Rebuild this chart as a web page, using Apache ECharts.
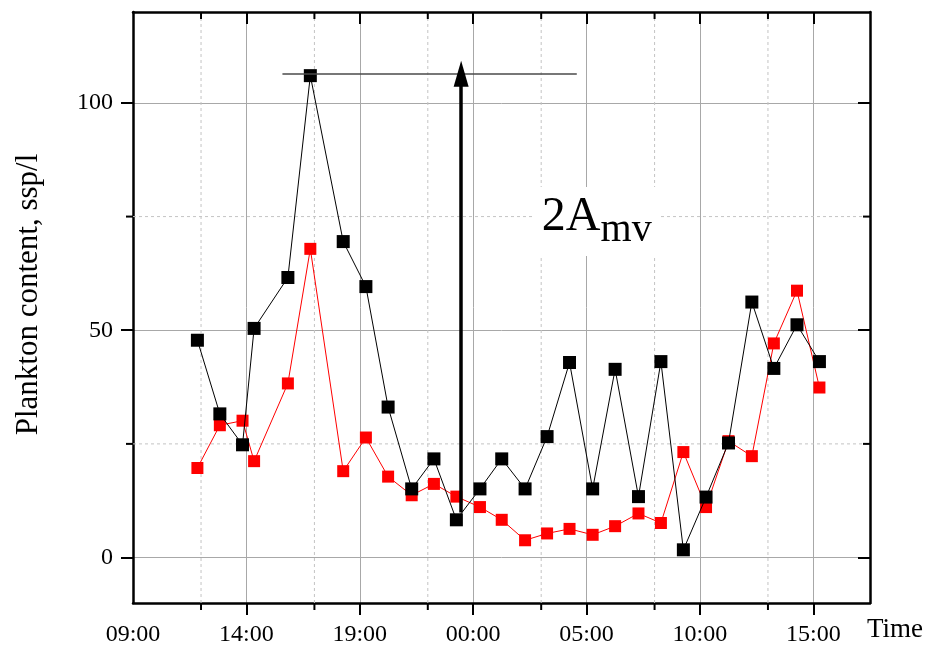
<!DOCTYPE html>
<html>
<head>
<meta charset="utf-8">
<script src="https://cdn.jsdelivr.net/npm/echarts@6/dist/echarts.min.js"></script>
<style>
html,body{margin:0;padding:0;background:#fff;}
#chart{width:932px;height:647px;}
</style>
</head>
<body>
<div id="chart"></div>
<script>
// Time in hours after 09:00 on day 1
var sampleTimes = [2.84, 3.83, 4.83, 5.34, 6.83, 7.82, 9.27, 10.27, 11.25, 12.29, 13.27, 14.26, 15.30, 16.26,
  17.29, 18.26, 19.25, 20.27, 21.26, 22.29, 23.28, 24.27, 25.27, 26.26, 27.29, 28.26, 29.28, 30.27];
var blackValues = [47.8, 31.6, 24.8, 50.4, 61.6, 106.0, 69.5, 59.6, 33.1, 15.1, 21.7, 8.3, 15.1, 21.7,
  15.1, 26.6, 42.9, 15.1, 41.4, 13.4, 43.1, 1.7, 13.3, 25.2, 56.2, 41.6, 51.2, 43.1];
var redValues = [19.7, 29.1, 30.1, 21.2, 38.3, 67.9, 19.0, 26.4, 17.8, 13.7, 16.2, 13.4, 11.1, 8.3,
  3.8, 5.3, 6.3, 5.0, 6.9, 9.7, 7.6, 23.2, 11.1, 25.6, 22.3, 47.1, 58.7, 37.4];

var xTickValues = [0, 5, 10, 15, 20, 25, 30];
var xTickLabels = ['09:00', '14:00', '19:00', '00:00', '05:00', '10:00', '15:00'];
var xMinorValues = [3, 8, 13, 18, 23, 28];
var yTickValues = [0, 50, 100];
var yTickLabels = ['0', '50', '100'];
var yMinorValues = [25, 75];

// annotation (2A_mv amplitude)
var annoLineX = [6.59, 19.57];
var annoLevel = 106.4;
var arrowX = 14.47;
var arrowBase = 9.9;
var annoTextPos = [20.45, 73.9];

var X_MIN = 0, X_MAX = 32.5, Y_MIN = -10, Y_MAX = 120;
var FONT = 'Liberation Serif';

function pairs(xs, ys) { return xs.map(function (x, i) { return [x, ys[i]]; }); }

var chart = echarts.init(document.getElementById('chart'), null, {renderer: 'canvas'});

var frameLine = {show: true, onZero: false, lineStyle: {color: '#000', width: 2.5}};
var majorGrid = {show: true, lineStyle: {color: '#a8a8a8', width: 1}};
var majorX = xTickValues.filter(function (v) { return v > X_MIN; });

var option = {
  backgroundColor: '#fff',
  animation: false,
  grid: {left: 133, right: 62, top: 12, bottom: 41, containLabel: false},
  xAxis: [{
    type: 'value', min: X_MIN, max: X_MAX, interval: 5, position: 'bottom',
    axisLine: frameLine,
    axisTick: {show: true, inside: false, length: 12, lineStyle: {color: '#000', width: 2}, customValues: majorX},
    axisLabel: {show: true, customValues: xTickValues, margin: 20, color: '#000', fontFamily: FONT, fontSize: 24,
      formatter: function (v) { var i = xTickValues.indexOf(v); return i >= 0 ? xTickLabels[i] : ''; }},
    splitLine: majorGrid,
    name: 'Time', nameLocation: 'end', nameGap: -3,
    nameTextStyle: {color: '#000', fontFamily: FONT, fontSize: 27, align: 'left', verticalAlign: 'top', padding: [13, 0, 0, 0]}
  }, {
    type: 'value', min: X_MIN, max: X_MAX, interval: 5, position: 'top',
    axisLine: frameLine,
    axisTick: {show: true, inside: true, length: 12, lineStyle: {color: '#000', width: 2}, customValues: majorX},
    axisLabel: {show: false}, splitLine: {show: false}
  }],
  yAxis: [{
    type: 'value', min: Y_MIN, max: Y_MAX, splitNumber: 3, position: 'left',
    axisLine: frameLine,
    axisTick: {show: true, inside: false, length: 12, lineStyle: {color: '#000', width: 2}, customValues: yTickValues},
    axisLabel: {show: true, customValues: yTickValues, margin: 20, color: '#000', fontFamily: FONT, fontSize: 24,
      formatter: function (v) { var i = yTickValues.indexOf(v); return i >= 0 ? yTickLabels[i] : ''; }},
    splitLine: majorGrid,
    name: 'Plankton content, ssp/l', nameLocation: 'middle', nameRotate: 90, nameGap: 89,
    nameTextStyle: {color: '#000', fontFamily: FONT, fontSize: 31, padding: [0, 0, 0, 26]}
  }, {
    type: 'value', min: Y_MIN, max: Y_MAX, splitNumber: 3, position: 'right',
    axisLine: frameLine,
    axisTick: {show: true, inside: true, length: 12, lineStyle: {color: '#000', width: 2}, customValues: yTickValues},
    axisLabel: {show: false}, splitLine: {show: false}
  }],
  series: [
    {
      type: 'custom', name: 'minorX', z: 1, clip: false, silent: true,
      data: xMinorValues.map(function (v) { return [v]; }),
      encode: {x: 0},
      renderItem: function (params, api) {
        var x = api.value(0);
        var pb = api.coord([x, Y_MIN]);
        var pt = api.coord([x, Y_MAX]);
        return {type: 'group', children: [
          {type: 'line', shape: {x1: pb[0], y1: pb[1], x2: pt[0], y2: pt[1]},
            style: {stroke: '#c4c4c4', lineWidth: 1, lineDash: [3, 3]}},
          {type: 'line', shape: {x1: pb[0], y1: pb[1], x2: pb[0], y2: pb[1] + 7},
            style: {stroke: '#000', lineWidth: 2}},
          {type: 'line', shape: {x1: pt[0], y1: pt[1], x2: pt[0], y2: pt[1] + 7},
            style: {stroke: '#000', lineWidth: 2}}
        ]};
      }
    },
    {
      type: 'custom', name: 'minorY', z: 1, clip: false, silent: true,
      data: yMinorValues.map(function (v) { return [X_MIN, v]; }),
      encode: {x: 0, y: 1},
      renderItem: function (params, api) {
        var y = api.value(1);
        var pl = api.coord([X_MIN, y]);
        var pr = api.coord([X_MAX, y]);
        return {type: 'group', children: [
          {type: 'line', shape: {x1: pl[0], y1: pl[1], x2: pr[0], y2: pr[1]},
            style: {stroke: '#c4c4c4', lineWidth: 1, lineDash: [3, 3]}},
          {type: 'line', shape: {x1: pl[0] - 7, y1: pl[1], x2: pl[0], y2: pl[1]},
            style: {stroke: '#000', lineWidth: 2}},
          {type: 'line', shape: {x1: pr[0] - 7, y1: pr[1], x2: pr[0], y2: pr[1]},
            style: {stroke: '#000', lineWidth: 2}}
        ]};
      }
    },
    {
      type: 'scatter', name: 'label', z: 2, silent: true, symbolSize: 0,
      itemStyle: {opacity: 1},
      data: [annoTextPos],
      label: {
        show: true, position: 'inside', formatter: '{a|2A}{b|mv}', color: '#000', opacity: 1,
        backgroundColor: '#fff', padding: [6, 8, 6, 8],
        rich: {
          a: {fontFamily: FONT, fontSize: 48, color: '#000', opacity: 1, lineHeight: 48, verticalAlign: 'top'},
          b: {fontFamily: FONT, fontSize: 40, color: '#000', opacity: 1, lineHeight: 57, verticalAlign: 'bottom'}
        }
      }
    },
    {
      type: 'line', name: 'red', z: 3, data: pairs(sampleTimes, redValues),
      symbol: 'rect', symbolSize: 12, itemStyle: {color: '#ff0000'},
      lineStyle: {color: '#ff0000', width: 1}
    },
    {
      type: 'line', name: 'black', z: 4, data: pairs(sampleTimes, blackValues),
      symbol: 'rect', symbolSize: 13, itemStyle: {color: '#000'},
      lineStyle: {color: '#000', width: 1},
      markLine: {
        silent: true, animation: false, label: {show: false},
        data: [
          [{coord: [annoLineX[0], annoLevel], symbol: 'none', lineStyle: {color: '#4a4a4a', width: 1.5, type: 'solid'}},
           {coord: [annoLineX[1], annoLevel], symbol: 'none'}],
          [{coord: [arrowX, arrowBase], symbol: 'none', lineStyle: {color: '#000', width: 3.5, type: 'solid'}},
           {coord: [arrowX, annoLevel], symbol: 'triangle', symbolSize: [15, 26]}]
        ]
      }
    }
  ]
};
chart.setOption(option);
</script>
</body>
</html>
